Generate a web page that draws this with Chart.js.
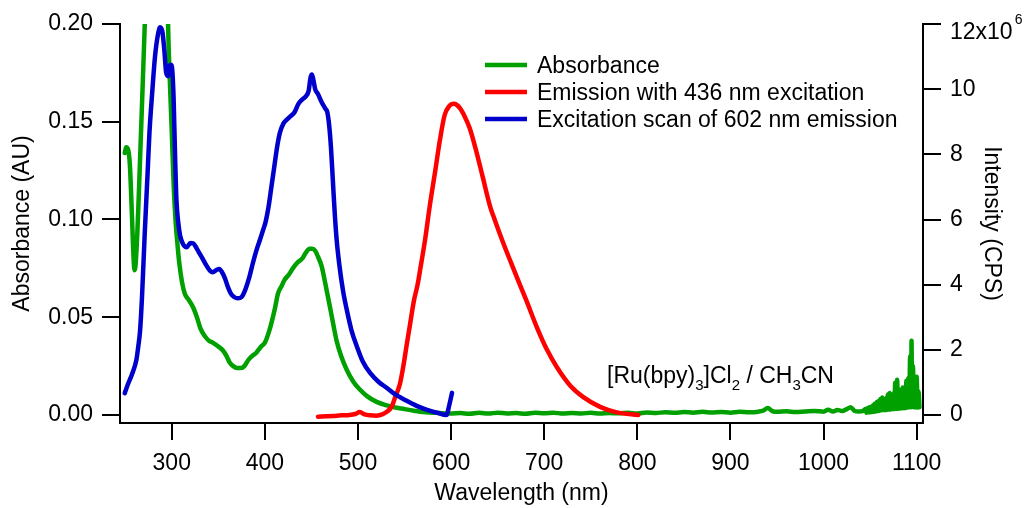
<!DOCTYPE html>
<html>
<head>
<meta charset="utf-8">
<script src="https://cdn.jsdelivr.net/npm/chart.js@4.4.1/dist/chart.umd.min.js"></script>
<style>
  body { margin: 0; background: #fff; }
</style>
</head>
<body>
<canvas id="grafico" width="1025" height="508"></canvas>
<script>
// absorbance (left axis, AU)
const absWl = [249.5, 251, 253, 255, 257, 259, 260, 261, 263, 265, 267, 269, 271, 275, 280, 285, 288, 291, 294, 296, 298, 300, 302, 304, 306, 308, 311, 314, 318, 323, 327, 331, 336, 340, 344, 350, 355, 359, 362, 366, 370, 374, 378, 382, 386, 391, 396, 400, 404, 407, 411, 414, 418, 421, 426, 430, 435, 440, 444, 448, 451, 454, 457, 461, 465, 470, 474, 477, 482, 488, 495, 502, 510, 520, 530, 538, 550, 560, 570, 580, 590, 600,
  610, 620, 630, 640, 650, 660, 670, 680, 690, 700, 710, 720, 730, 740, 750, 760, 770, 780, 790, 800, 810, 820, 830, 840, 850, 860, 870, 880, 890, 900, 910, 920, 930, 935, 940, 945, 950, 960, 970, 980, 990, 1000, 1005, 1010, 1015, 1020, 1025, 1029, 1033, 1038, 1042,
  1045, 1046, 1047, 1048, 1049, 1050, 1051, 1052, 1053, 1054, 1055, 1056, 1057, 1058, 1059, 1060, 1061, 1062, 1063, 1064, 1065, 1066, 1067, 1068, 1069, 1070, 1071, 1072, 1073, 1074, 1075, 1076, 1077, 1078, 1079, 1080, 1081, 1082, 1083, 1084, 1085, 1086, 1087, 1088, 1089, 1090, 1091, 1092, 1093, 1094, 1094.5, 1095, 1096, 1097, 1098, 1099, 1100, 1101, 1102, 1103];
const absVal = [0.134, 0.137, 0.136, 0.128, 0.105, 0.080, 0.074, 0.076, 0.093, 0.118, 0.145, 0.172, 0.200, 0.26, 0.36, 0.44, 0.46, 0.40, 0.26, 0.200, 0.170, 0.145, 0.118, 0.100, 0.088, 0.078, 0.068, 0.062, 0.059, 0.055, 0.050, 0.044, 0.040, 0.038, 0.037, 0.035, 0.033, 0.030, 0.027, 0.025, 0.024, 0.024, 0.025, 0.028, 0.030, 0.032, 0.035, 0.037, 0.042, 0.047, 0.055, 0.062, 0.066, 0.069, 0.072, 0.075, 0.078, 0.080, 0.083, 0.085, 0.085, 0.084, 0.081, 0.076, 0.067, 0.055, 0.045, 0.038, 0.030, 0.023, 0.017, 0.013, 0.0095, 0.0067, 0.005, 0.0040, 0.003, 0.0022, 0.0015, 0.0012, 0.0009, 0.0008,
  0.0010, 0.0006, 0.0011, 0.0007, 0.0012, 0.0008, 0.0010, 0.0006, 0.0011, 0.0009, 0.0012, 0.0007, 0.0010, 0.0008, 0.0011, 0.0007, 0.0010, 0.0009, 0.0011, 0.0008, 0.0013, 0.0010, 0.0014, 0.0011, 0.0015, 0.0012, 0.0016, 0.0013, 0.0015, 0.0012, 0.0016, 0.0014, 0.0017, 0.0022, 0.0036, 0.0020, 0.0016, 0.0019, 0.0015, 0.0018, 0.0021, 0.0017, 0.0027, 0.0018, 0.0026, 0.0020, 0.0030, 0.0040, 0.0022, 0.0018, 0.0020,
  0.0030, 0.0012, 0.0035, 0.0013, 0.0040, 0.0014, 0.0042, 0.0015, 0.0050, 0.0016, 0.0058, 0.0018, 0.0065, 0.0020, 0.0072, 0.0022, 0.0082, 0.0024, 0.0090, 0.0025, 0.0075, 0.0025, 0.0085, 0.0026, 0.0105, 0.0028, 0.0112, 0.0028, 0.0090, 0.0030, 0.0110, 0.0030, 0.0165, 0.0032, 0.0180, 0.0032, 0.0105, 0.0033, 0.0130, 0.0034, 0.0140, 0.0035, 0.0120, 0.0036, 0.0175, 0.0038, 0.0188, 0.0040, 0.0300, 0.0040, 0.0380, 0.0042, 0.0250, 0.0040, 0.0195, 0.0040, 0.0195, 0.0038, 0.0120, 0.0040];

// emission with 436 nm excitation (right axis, 10^6 CPS)
const emWl = [457, 465, 473, 482, 491, 497, 502, 507, 513, 520, 526, 531, 536, 540, 545, 549, 552, 556, 560, 564, 567, 572, 577, 583, 588, 593, 598, 603, 606, 610, 613, 620, 627, 634, 642, 647, 656, 664, 671, 681, 692, 703, 714, 728, 742, 760, 778, 801];
const emVal = [-0.05, -0.04, -0.03, -0.01, 0.00, 0.03, 0.09, 0.02, -0.01, -0.02, 0.02, 0.10, 0.25, 0.55, 0.95, 1.55, 2.1, 2.8, 3.5, 4.0, 4.5, 5.37, 6.4, 7.5, 8.44, 9.2, 9.48, 9.55, 9.52, 9.4, 9.25, 8.8, 8.1, 7.3, 6.39, 5.98, 5.28, 4.7, 4.2, 3.5, 2.7, 2.0, 1.45, 0.9, 0.55, 0.25, 0.08, 0.0];

// excitation scan of 602 nm emission (right axis, 10^6 CPS)
const exWl = [249.5, 253, 257, 262, 264, 266, 268, 271, 274, 276, 279, 282, 285, 287.5, 290, 292, 294, 296, 297.5, 299, 300.5, 302, 303.5, 305, 307, 309, 312, 316, 320, 323, 327, 330, 334, 337, 341, 344, 348, 351, 354, 357, 360, 363, 367, 371, 375, 379, 383, 387, 391, 395, 398, 401, 404, 407, 410, 413, 416, 420, 423, 428, 432, 436, 440, 444, 447, 449, 450.5, 452, 454, 457, 461, 465, 467, 469, 471, 473, 475, 477, 480, 484, 488, 493, 499, 505, 513, 522, 531, 540, 550, 563, 575, 585, 595, 598, 601];
const exVal = [0.67, 0.95, 1.23, 1.69, 2.1, 2.6, 3.6, 5.6, 7.4, 8.65, 9.9, 11.0, 11.65, 11.9, 11.75, 11.2, 10.5, 10.4, 10.7, 10.75, 10.6, 9.7, 8.0, 6.6, 5.9, 5.5, 5.25, 5.15, 5.28, 5.27, 5.1, 4.95, 4.75, 4.6, 4.43, 4.38, 4.45, 4.48, 4.38, 4.2, 3.95, 3.75, 3.62, 3.58, 3.62, 3.85, 4.2, 4.65, 5.06, 5.4, 5.67, 5.95, 6.4, 7.0, 7.6, 8.2, 8.65, 8.95, 9.05, 9.18, 9.3, 9.55, 9.68, 9.78, 9.95, 10.35, 10.45, 10.3, 10.0, 9.85, 9.6, 9.4, 9.3, 8.9, 8.2, 7.2, 6.2, 5.4, 4.6, 3.8, 3.22, 2.6, 2.09, 1.65, 1.29, 1.02, 0.83, 0.63, 0.47, 0.28, 0.15, 0.07, 0.0, 0.3, 0.68];

const xTicks = [300, 400, 500, 600, 700, 800, 900, 1000, 1100];
const absTicks = [0, 0.05, 0.10, 0.15, 0.20];
const intTicks = [0, 2, 4, 6, 8, 10, 12];

const legendItems = [
  ["Absorbance", "#00a000"],
  ["Emission with 436 nm excitation", "#ff0000"],
  ["Excitation scan of 602 nm emission", "#0000cc"],
];

const FONTE = "'Liberation Sans', Arial, sans-serif";
Chart.defaults.font.family = FONTE;
Chart.defaults.font.size = 23;
Chart.defaults.color = "#000";

function pares(xs, ys) {
  return xs.map((x, i) => ({ x: x, y: ys[i] }));
}

// draws a run of [text, isSub] pieces, subscripts smaller and lowered
function textoComSub(ctx, partes, x, y) {
  for (const [t, sub] of partes) {
    ctx.font = (sub ? "15px " : "23px ") + FONTE;
    ctx.fillText(t, x, sub ? y + 7 : y);
    x += ctx.measureText(t).width;
  }
}

const textoExtra = {
  id: "textoExtra",
  afterDraw(chart) {
    const ctx = chart.ctx;
    ctx.save();
    ctx.fillStyle = "#000";
    ctx.textBaseline = "alphabetic";
    ctx.textAlign = "left";

    // legend
    legendItems.forEach(([nome, cor], i) => {
      const y = 65 + i * 27;
      ctx.strokeStyle = cor;
      ctx.lineWidth = 4.5;
      ctx.beginPath();
      ctx.moveTo(485, y);
      ctx.lineTo(527, y);
      ctx.stroke();
      ctx.font = "23px " + FONTE;
      ctx.fillText(nome, 537, y + 8);
    });

    // sample label
    textoComSub(ctx, [["[Ru(bpy)", false], ["3", true], ["]Cl", false], ["2", true], [" / CH", false], ["3", true], ["CN", false]], 607, 383);

    // top label of the right axis
    const yTopo = chart.scales.y2.getPixelForValue(12);
    ctx.font = "23px " + FONTE;
    ctx.fillText("12x10", 950, yTopo + 15);
    const w = ctx.measureText("12x10").width;
    ctx.font = "14px " + FONTE;
    ctx.fillText("6", 950 + w + 2, yTopo);
    ctx.restore();
  },
};

class Grafico {
  static canvas = document.getElementById("grafico").getContext("2d");

  static eixo(extra) {
    return Object.assign({
      grid: { drawOnChartArea: false, drawTicks: true, tickLength: 18, color: "#000", lineWidth: 2 },
      border: { display: true, color: "#000", width: 2 },
    }, extra);
  }

  static graficoMostrar() {
    new Chart(this.canvas, {
      type: "line",
      data: {
        datasets: [
          {
            label: "Absorbance",
            data: pares(absWl, absVal),
            yAxisID: "y",
            borderColor: "#00a000",
            borderWidth: 4.5,
            order: 3,
          },
          {
            label: "Emission with 436 nm excitation",
            data: pares(emWl, emVal),
            yAxisID: "y2",
            borderColor: "#ff0000",
            borderWidth: 4.5,
            order: 2,
          },
          {
            label: "Excitation scan of 602 nm emission",
            data: pares(exWl, exVal),
            yAxisID: "y2",
            borderColor: "#0000cc",
            borderWidth: 4.5,
            order: 1,
          },
        ],
      },
      options: {
        responsive: false,
        animation: false,
        devicePixelRatio: 1,
        layout: { padding: { top: 24, left: 0, right: 0, bottom: 0 } },
        elements: {
          point: { radius: 0 },
          line: { cubicInterpolationMode: "monotone", borderCapStyle: "round", borderJoinStyle: "round" },
        },
        plugins: {
          legend: { display: false },
          tooltip: { enabled: false },
        },
        scales: {
          x: this.eixo({
            type: "linear",
            min: 244.4,
            max: 1106.8,
            grid: { drawOnChartArea: false, drawTicks: true, tickLength: 17, color: "#000", lineWidth: 2 },
            afterBuildTicks: (s) => { s.ticks = xTicks.map((v) => ({ value: v })); },
            afterFit: (s) => { s.height = 85; },
            ticks: { padding: 10, maxRotation: 0, autoSkip: false, callback: (v) => String(v) },
            title: { display: true, text: "Wavelength (nm)", padding: { top: 0, bottom: 1 } },
          }),
          y: this.eixo({
            type: "linear",
            position: "left",
            min: -0.0041,
            max: 0.2,
            afterBuildTicks: (s) => { s.ticks = absTicks.map((v) => ({ value: v })); },
            afterFit: (s) => { s.width = 120; },
            ticks: { padding: 9, callback: (v) => v.toFixed(2) },
            title: { display: true, text: "Absorbance (AU)", padding: { top: 9, bottom: 0 } },
          }),
          y2: this.eixo({
            type: "linear",
            position: "right",
            min: -0.2455,
            max: 12,
            afterBuildTicks: (s) => { s.ticks = intTicks.map((v) => ({ value: v })); },
            afterFit: (s) => { s.width = 102; },
            ticks: { padding: 9, callback: (v) => (v === 12 ? "" : String(v)) },
            title: { display: true, text: "Intensity (CPS)", padding: { top: 20, bottom: 0 } },
          }),
        },
      },
      plugins: [textoExtra],
    });
  }
}

Grafico.graficoMostrar();
</script>
</body>
</html>
